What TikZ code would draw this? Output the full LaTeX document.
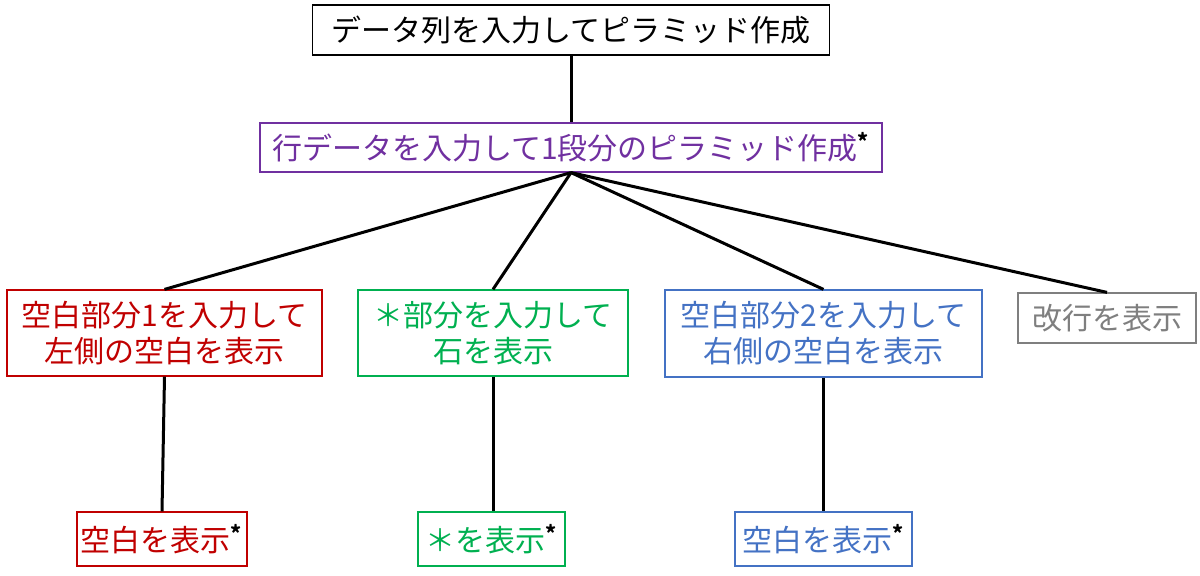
\documentclass[tikz,border=0pt]{standalone}
\usepackage{fontspec}
\setmainfont{Noto Sans CJK JP}
\definecolor{cred}{HTML}{C00000}
\definecolor{cgreen}{HTML}{00B050}
\definecolor{cblue}{HTML}{4472C4}
\definecolor{cpurple}{HTML}{7030A0}
\definecolor{cgray}{HTML}{7F7F7F}
\newcommand{\myast}{\textsuperscript{\color{black}\bfseries *}}
\begin{document}
\begin{tikzpicture}[x=0.5pt,y=-0.5pt,
 box/.style={draw,line width=0.6pt,inner sep=0pt,align=center,font=\fontsize{15}{18}\selectfont},
 ln/.style={line width=1.5pt}]
\useasboundingbox (0,0) rectangle (1200,576);
\node[box,minimum width=258.5pt,minimum height=25pt] (top) at (571,30) {データ列を入力してピラミッド作成};
\node[box,draw=cpurple,text=cpurple,minimum width=311pt,minimum height=24.5pt] (row) at (571,147.5) {行データを入力して1段分のピラミッド作成\myast};
\node[box,draw=cred,text=cred,minimum width=157.5pt,minimum height=43pt] (r) at (164.5,333) {空白部分1を入力して\\左側の空白を表示};
\node[box,draw=cgreen,text=cgreen,minimum width=135pt,minimum height=43pt] (g) at (493,333) {＊部分を入力して\\石を表示};
\node[box,draw=cblue,text=cblue,minimum width=158.5pt,minimum height=43.5pt] (b) at (823.5,333.5) {空白部分2を入力して\\右側の空白を表示};
\node[box,draw=cgray,text=cgray,minimum width=89pt,minimum height=25pt] (k) at (1107,318) {改行を表示};
\node[box,draw=cred,text=cred,minimum width=85pt,minimum height=27pt] (r2) at (162,539) {空白を表示\myast};
\node[box,draw=cgreen,text=cgreen,minimum width=73.5pt,minimum height=27pt] (g2) at (491.5,539) {＊を表示\myast};
\node[box,draw=cblue,text=cblue,minimum width=88.5pt,minimum height=27pt] (b2) at (823.5,539) {空白を表示\myast};
\draw[ln] (top.south) -- (row.north);
\foreach \n in {r,g,b,k} \draw[ln] (row.south) -- (\n.north);
\draw[ln] (r.south) -- (r2.north);
\draw[ln] (g.south) -- (g2.north -| g.south);
\draw[ln] (b.south) -- (b2.north -| b.south);
\end{tikzpicture}
\end{document}
